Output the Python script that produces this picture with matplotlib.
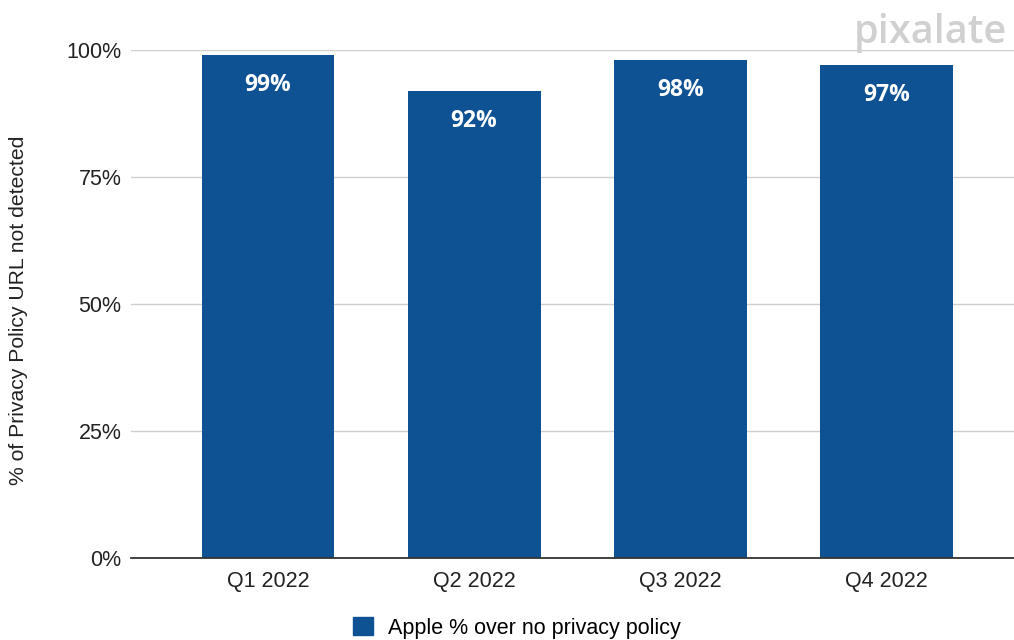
import matplotlib
matplotlib.use("Agg")
import matplotlib.pyplot as plt
from matplotlib.patches import Patch

quarters = ["Q1 2022", "Q2 2022", "Q3 2022", "Q4 2022"]
share_no_policy = [99, 92, 98, 97]
y_ticks = [0, 25, 50, 75, 100]
y_tick_labels = ["0%", "25%", "50%", "75%", "100%"]
series_name = "Apple % over no privacy policy"
y_title = "% of Privacy Policy URL not detected"

bar_color = "#0e5294"
text_color = "#222222"
base_font = "Liberation Sans"

fig = plt.figure(figsize=(10.14, 6.4), dpi=100)
ax = fig.add_axes([131 / 1014, 1 - 558 / 640, (1014 - 131) / 1014, 508 / 640])

x = list(range(len(quarters)))
ax.bar(x, share_no_policy, width=0.645, color=bar_color, zorder=3)

for xi, v in zip(x, share_no_policy):
    ax.annotate(f"{v}%", (xi, v), xytext=(0, -21.5), textcoords="offset points",
                ha="center", va="center", color="white", fontsize=16.5,
                fontweight="bold", family="Open Sans", zorder=4)

ax.set_ylim(0, 100)
ax.set_xlim(-0.665, 3.62)
ax.set_yticks(y_ticks)
ax.set_yticklabels(y_tick_labels, family=base_font, fontsize=15.5, color=text_color)
ax.set_xticks(x)
ax.set_xticklabels(quarters, family=base_font, fontsize=15.5, color=text_color)
ax.tick_params(axis="y", length=0, pad=7)
ax.tick_params(axis="x", length=0, pad=9)

ax.grid(axis="y", color="#cfcfcf", linewidth=1, zorder=0)
for s in ["top", "right", "left"]:
    ax.spines[s].set_visible(False)
ax.spines["bottom"].set_color("#333333")
ax.spines["bottom"].set_linewidth(1.3)
ax.spines["bottom"].set_zorder(5)

fig.text(19 / 1014, 1 - 310 / 640, y_title, rotation=90, ha="center", va="center",
         family=base_font, fontsize=15.2, color=text_color)

fig.legend(handles=[Patch(facecolor=bar_color, edgecolor=bar_color)], labels=[series_name],
           loc="center", bbox_to_anchor=(517 / 1014, 1 - 628 / 640), frameon=False,
           prop={"family": base_font, "size": 15.5}, handlelength=0.92,
           handleheight=0.92, handletextpad=0.7)

fig.text(1007 / 1014, 1 - 43 / 640, "pixalate", ha="right", va="baseline",
         family="Open Sans", fontweight="semibold", fontsize=28.5, color="#d0d0d0")

fig.savefig("out.png", dpi=100)
